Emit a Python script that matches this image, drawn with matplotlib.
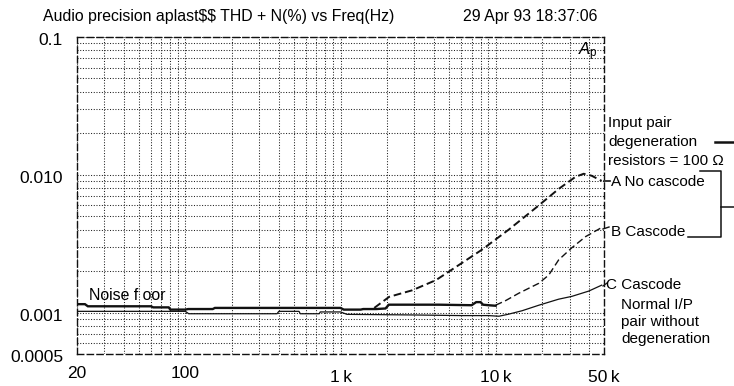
import matplotlib
matplotlib.use("Agg")
import matplotlib.pyplot as plt
import numpy as np
from matplotlib.ticker import FixedLocator, FixedFormatter, LogLocator, NullFormatter
from matplotlib.lines import Line2D
from matplotlib.transforms import ScaledTranslation

plt.rcParams['font.family'] = ['Liberation Sans', 'DejaVu Sans']
plt.rcParams['mathtext.fontset'] = 'custom'
plt.rcParams['mathtext.rm'] = 'Liberation Sans'
plt.rcParams['mathtext.it'] = 'Liberation Sans:italic'

# ---- data ----
noise_f = [20, 22.5, 23.5, 60, 62, 78, 80, 100, 104, 150, 155, 350, 1000, 1050,
           1350, 1400, 1700, 1950, 2050, 4300, 7000, 7500, 8000, 8300, 9000, 10000]
noise_v = [0.00115, 0.00115, 0.00111, 0.00111, 0.00109, 0.00109, 0.00105, 0.00105,
           0.00106, 0.00106, 0.00108, 0.00108, 0.00108, 0.00105, 0.00105, 0.00106,
           0.00106, 0.00107, 0.00114, 0.00114, 0.00113, 0.00119, 0.00119, 0.00114,
           0.00113, 0.00112]

a_f = [1650, 2060, 2900, 4130, 6070, 8170, 12200, 18400, 25500, 32800, 37000, 41600, 48300]
a_v = [0.00108, 0.00130, 0.00145, 0.00172, 0.00229, 0.00286, 0.00401, 0.00582,
       0.00789, 0.00967, 0.01017, 0.00984, 0.00903]

b_f = [10000, 11600, 14100, 19000, 22000, 25500, 31000, 38100, 48300]
b_v = [0.00113, 0.00122, 0.00138, 0.00163, 0.00187, 0.00241, 0.00295, 0.00356, 0.00414]

c_f = [20, 100, 105, 390, 400, 540, 550, 730, 740, 1000, 1100, 3000, 6000, 9000,
       10500, 12000, 14800, 19000, 25500, 31000, 39800, 48300]
c_v = [0.00102, 0.00102, 0.00098, 0.00098, 0.00102, 0.00102, 0.00098, 0.00098,
       0.00101, 0.00101, 0.00097, 0.00096, 0.00095, 0.00095, 0.00094, 0.00097,
       0.00103, 0.00113, 0.00125, 0.00131, 0.00143, 0.00158]

x_ticks = [20, 100, 1000, 10000, 50000]
x_labels = ['20', '100', '1\u2009k', '10\u2009k', '50\u2009k']
y_ticks = [0.0005, 0.001, 0.01, 0.1]
y_labels = ['0.0005', '0.001', '0.010', '0.1']

W, H = 734, 386
fig = plt.figure(figsize=(W / 100, H / 100), dpi=100)
L, R, T, B = 77, 604, 37, 354
ax = fig.add_axes([L / W, 1 - B / H, (R - L) / W, (B - T) / H])
ax.set_xscale('log')
ax.set_yscale('log')
ax.set_xlim(20, 50000)
ax.set_ylim(0.0005, 0.1)

ax.xaxis.set_major_locator(FixedLocator(x_ticks))
ax.xaxis.set_major_formatter(FixedFormatter(x_labels))
ax.xaxis.set_minor_locator(LogLocator(base=10, subs=np.arange(2, 10)))
ax.xaxis.set_minor_formatter(NullFormatter())
ax.yaxis.set_major_locator(FixedLocator(y_ticks))
ax.yaxis.set_major_formatter(FixedFormatter(y_labels))
ax.yaxis.set_minor_locator(LogLocator(base=10, subs=np.arange(2, 10)))
ax.yaxis.set_minor_formatter(NullFormatter())

ax.tick_params(which='both', length=0)
ax.tick_params(axis='x', pad=9, labelsize=12.5)
ax.tick_params(axis='y', pad=10, labelsize=12.5)

# the "k" labels sit a little lower in the reference
for t in ax.xaxis.get_major_ticks()[2:]:
    t.label1.set_transform(t.label1.get_transform() +
                           ScaledTranslation(0, -4 / 100, fig.dpi_scale_trans))
# y labels sit a touch lower than their lines
for t in ax.yaxis.get_major_ticks():
    t.label1.set_transform(t.label1.get_transform() +
                           ScaledTranslation(0, -2 / 100, fig.dpi_scale_trans))

ax.grid(which='both', color='#222222', linestyle=(0, (1, 1.6)), linewidth=0.75)
for s in ax.spines.values():
    s.set_linestyle((0, (4.5, 2.5)))
    s.set_linewidth(1.0)
    s.set_color('#111111')

ax.plot(noise_f, noise_v, color='#111111', lw=1.7, solid_joinstyle='miter')
ax.plot(c_f, c_v, color='#111111', lw=0.9)
ax.plot(a_f, a_v, color='#111111', lw=1.4, linestyle=(0, (4, 2)))
ax.plot(b_f, b_v, color='#111111', lw=1.0, linestyle=(0, (5, 2.5)))


def fx(px):
    return px / W


def fy(py):
    return 1 - py / H


fs = 11
fig.text(fx(43), fy(17), 'Audio precision aplast$$ THD + N(%) vs Freq(Hz)',
         fontsize=11.4, va='center', ha='left', parse_math=False)
fig.text(fx(463), fy(17), '29 Apr 93 18:37:06', fontsize=11.4, va='center', ha='left')

fig.text(fx(578), fy(52), r'$\mathit{A}_{\mathrm{p}}$', fontsize=12, va='center', ha='left')

fig.text(fx(89), fy(296), 'Noise f oor', fontsize=11.4, va='center', ha='left')

notes = [(608, 123, 'Input pair'), (608, 142, 'degeneration'),
         (608, 161, 'resistors = 100 \u03a9'), (611, 182, 'A No cascode'),
         (611, 232, 'B Cascode'), (606, 285, 'C Cascode'), (621, 305, 'Normal I/P'),
         (621, 322, 'pair without'), (621, 339, 'degeneration')]
for x, y, t in notes:
    fig.text(fx(x), fy(y), t, fontsize=fs, va='center', ha='left')


def seg(pts, lw=1.2, ls='-'):
    xs = [fx(p[0]) for p in pts]
    ys = [fy(p[1]) for p in pts]
    fig.add_artist(Line2D(xs, ys, color='#111111', lw=lw, linestyle=ls))


seg([(715, 142), (734, 142)], lw=1.8)
seg([(700, 171), (721, 171), (721, 237), (688, 237)], lw=1.1)
seg([(721, 207), (734, 207)], lw=1.1)
seg([(604, 181), (610, 181)], lw=1.2)
seg([(603, 229), (609, 227)], lw=1.0)
seg([(603, 286), (607, 283)], lw=0.9)

fig.savefig('out.png', dpi=100)
